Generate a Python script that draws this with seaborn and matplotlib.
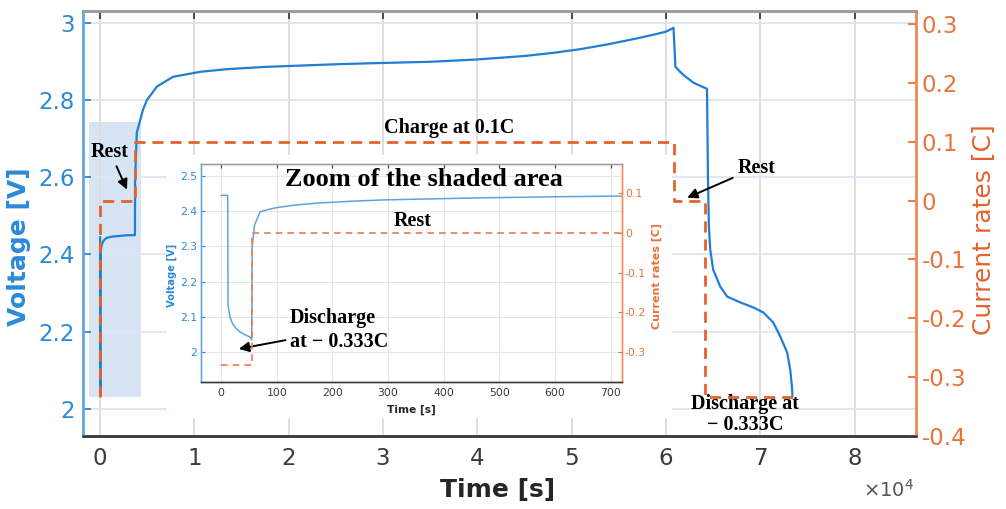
import numpy as np
import pandas as pd
import matplotlib
matplotlib.use('Agg')
import matplotlib.pyplot as plt
from matplotlib.patches import Rectangle
from matplotlib.ticker import FuncFormatter
import seaborn as sns

sns.set_style('white')
plt.rcParams['font.family'] = ['DejaVu Sans']
plt.rcParams['axes.unicode_minus'] = False

# measured cell voltage (time in s, voltage in V)
time_v = [0, 12, 12.5, 16, 20, 27, 34, 43, 52, 55, 56, 60, 70, 85, 100, 130, 172, 230,
          291, 380, 470, 600, 720, 1200, 2000, 3000, 3700, 3710, 3720, 3900, 4560, 4980,
          6040, 7740, 10600, 13500, 17700, 25500, 30000, 35000, 40000, 45000, 48000,
          51000, 54000, 57000, 59000, 60000, 60800, 61000, 61500, 62000, 62900, 63700,
          64350, 64450, 64550, 64690, 65000, 65750, 66490, 67870, 69250, 70310, 71370,
          72110, 72850, 73170, 73380, 73400]
voltage = [2.445, 2.445, 2.134, 2.10, 2.083, 2.067, 2.057, 2.049, 2.043, 2.035, 2.30,
           2.36, 2.398, 2.405, 2.41, 2.417, 2.423, 2.428, 2.432, 2.435, 2.438, 2.441,
           2.443, 2.446, 2.448, 2.45, 2.45, 2.46, 2.59, 2.715, 2.775, 2.80, 2.835, 2.86,
           2.873, 2.880, 2.886, 2.893, 2.896, 2.899, 2.905, 2.914, 2.922, 2.932, 2.945,
           2.960, 2.971, 2.977, 2.987, 2.886, 2.873, 2.862, 2.845, 2.836, 2.829, 2.60,
           2.472, 2.413, 2.361, 2.317, 2.291, 2.276, 2.263, 2.25, 2.224, 2.188, 2.146,
           2.102, 2.05, 2.03]

# applied current (C-rate), each value holds until the next time
time_i = [0, 55, 3700, 60800, 64150, 73400]
current = [-0.333, 0, 0.1, 0, -0.333, -0.333]

main_xticks = [0, 10000, 20000, 30000, 40000, 50000, 60000, 70000, 80000]
main_vticks = [2.0, 2.2, 2.4, 2.6, 2.8, 3.0]
main_iticks = [-0.4, -0.3, -0.2, -0.1, 0, 0.1, 0.2, 0.3]
zoom_xticks = [0, 100, 200, 300, 400, 500, 600, 700]
zoom_vticks = [2.0, 2.1, 2.2, 2.3, 2.4, 2.5]
zoom_iticks = [-0.3, -0.2, -0.1, 0, 0.1]

shade_t = (-1170, 4350)
shade_v = (2.032, 2.744)

df_v = pd.DataFrame({'t': time_v, 'V': voltage})
df_i = pd.DataFrame({'t': time_i, 'I': current})

BLUE = '#1f7fd4'
BLUE_TXT = '#2b8ad8'
BLUE_SP = '#6aa6dc'
ORANGE = '#e4622c'
ORANGE_TXT = '#e8733b'
ORANGE_SP = '#ee8a5c'
DARK = '#3a3a3a'
serif = dict(family='Liberation Serif', weight='bold', color='black')
arrow = dict(arrowstyle='-|>', color='black', lw=1.4, mutation_scale=15, shrinkA=1, shrinkB=0)
gfmt = FuncFormatter(lambda v, p: f'{v:g}')


def style_spines(axes, lw, left, right, bottom, top):
    for a in axes:
        for side, col in (('left', left), ('right', right), ('bottom', bottom), ('top', top)):
            a.spines[side].set_color(col)
            a.spines[side].set_linewidth(lw)


fig = plt.figure(figsize=(10.06, 5.09), dpi=100)

# ── main axes ──────────────────────────────────────────
ax = fig.add_axes([0.0825, 0.1434, 0.828, 0.8346])
ax2 = ax.twinx()

ax.add_patch(Rectangle((shade_t[0], shade_v[0]), shade_t[1] - shade_t[0], shade_v[1] - shade_v[0],
                       facecolor='#c9dcf0', edgecolor='none', alpha=0.75, zorder=0.5))
sns.lineplot(data=df_v, x='t', y='V', ax=ax, color=BLUE, lw=1.6, sort=False, estimator=None)
sns.lineplot(data=df_i, x='t', y='I', ax=ax2, color=ORANGE, lw=2, sort=False, estimator=None,
             drawstyle='steps-post', linestyle=(0, (4, 2.5)))

ax.set_xlim(-1800, 86500)
ax.set_ylim(1.93, 3.03)
ax2.set_ylim(-0.4, 0.322)
ax.set_xticks(main_xticks)
ax.xaxis.set_major_formatter(FuncFormatter(lambda v, p: f'{v / 1e4:g}'))
ax.set_yticks(main_vticks)
ax.yaxis.set_major_formatter(gfmt)
ax2.set_yticks(main_iticks)
ax2.yaxis.set_major_formatter(gfmt)

ax.xaxis.grid(True, color='#dcdcdc', lw=1.3)
ax.yaxis.grid(True, color='#dbe7f4', lw=1.3)
ax.set_axisbelow(True)

ax.tick_params(axis='x', direction='in', length=6, width=1.3, top=True, labelsize=16.5,
               colors=DARK, pad=8)
ax.tick_params(axis='y', direction='in', length=6, width=1.3, colors=BLUE_TXT, labelsize=16.5, pad=6)
ax2.tick_params(axis='y', direction='in', length=6, width=1.3, colors=ORANGE_TXT, labelsize=16.5, pad=4)
style_spines([ax, ax2], 1.8, BLUE_SP, ORANGE_SP, DARK, '#9a9a9a')

ax.set_xlabel('Time [s]', fontsize=18, fontweight='bold', color='#262626')
ax.xaxis.set_label_coords(0.498, -0.099)
ax.set_ylabel('Voltage [V]', fontsize=18, fontweight='bold', color=BLUE_TXT)
ax.yaxis.set_label_coords(-0.062, 0.445)
ax2.set_ylabel('Current rates [C]', fontsize=18, color=ORANGE)
ax2.yaxis.set_label_coords(1.066, 0.485)
fig.text(0.883, 0.037, r'$\times10^{4}$', fontsize=14, color='#555555', ha='center', va='center')

ax.annotate('Rest', xy=(2860, 2.568), xytext=(1060, 2.666), ha='center', va='center',
            fontsize=14.5, arrowprops=arrow, **serif)
ax.annotate('Rest', xy=(62250, 2.547), xytext=(69570, 2.625), ha='center', va='center',
            fontsize=14.5, arrowprops=arrow, **serif)
ax.text(37000, 2.728, 'Charge at 0.1C', ha='center', va='center', fontsize=14.5, **serif)
ax.text(68400, 1.986, 'Discharge at\n\u2212 0.333C', ha='center', va='center', fontsize=14.5,
        linespacing=1.05, **serif)

# white backing of the inset
fig.add_artist(Rectangle((0.166, 0.179), 0.502, 0.517, transform=fig.transFigure,
                         facecolor='white', edgecolor='none', zorder=2))

# ── inset: zoom of the shaded area ─────────────────────
ins = fig.add_axes([0.1998, 0.2495, 0.4185, 0.4283], zorder=3)
ins2 = ins.twinx()
ins2.set_zorder(4)
ins.patch.set_facecolor('white')

sns.lineplot(data=df_v, x='t', y='V', ax=ins, color='#5ea3e0', lw=1.1, sort=False, estimator=None)
sns.lineplot(data=df_i, x='t', y='I', ax=ins2, color='#ee7a48', lw=1.2, sort=False, estimator=None,
             drawstyle='steps-post', linestyle=(0, (4, 3)))

ins.set_xlim(-36, 720)
ins.set_ylim(1.915, 2.534)
ins2.set_ylim(-0.375, 0.1725)
ins.set_xticks(zoom_xticks)
ins.set_yticks(zoom_vticks)
ins.yaxis.set_major_formatter(gfmt)
ins2.set_yticks(zoom_iticks)
ins2.yaxis.set_major_formatter(gfmt)
ins.grid(True, color='#e6e6e6', lw=0.8)
ins.set_axisbelow(True)

ins.tick_params(axis='x', direction='in', length=3, width=0.8, top=True, labelsize=7.8,
                colors=DARK, pad=4)
ins.tick_params(axis='y', direction='in', length=3, width=0.8, colors=BLUE_TXT, labelsize=7.8, pad=3)
ins2.tick_params(axis='y', direction='in', length=3, width=0.8, colors=ORANGE_TXT, labelsize=7.8, pad=2)
style_spines([ins, ins2], 1.0, BLUE_SP, ORANGE_SP, DARK, '#a0a0a0')

ins.set_xlabel('Time [s]', fontsize=7.7, fontweight='bold', color='#262626')
ins.xaxis.set_label_coords(0.5, -0.105)
ins.set_ylabel('Voltage [V]', fontsize=7.2, fontweight='bold', color=BLUE_TXT)
ins.yaxis.set_label_coords(-0.057, 0.49)
ins2.set_ylabel('Current rates [C]', fontsize=8, fontweight='bold', color=ORANGE_TXT)
ins2.yaxis.set_label_coords(1.071, 0.486)

ins.text(365, 2.489, 'Zoom of the shaded area', ha='center', va='center', fontsize=19, **serif)
ins.text(345, 2.372, 'Rest', ha='center', va='center', fontsize=14.5, **serif)
ins.annotate('Discharge\nat \u2212 0.333C', xy=(32, 2.009), xytext=(124, 2.0625), ha='left',
             va='center', fontsize=14.5, linespacing=1.25, arrowprops=arrow, **serif)

fig.savefig('out.png', dpi=100)
